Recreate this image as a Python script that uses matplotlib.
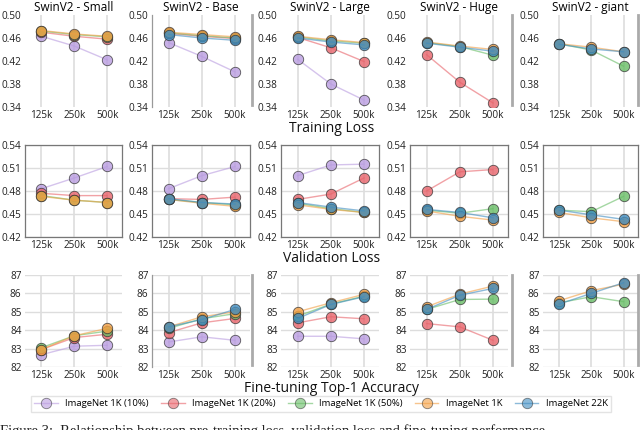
import matplotlib.pyplot as plt
from matplotlib.lines import Line2D

steps = ["125k", "250k", "500k"]
models = ["SwinV2 - Small", "SwinV2 - Base", "SwinV2 - Large", "SwinV2 - Huge", "SwinV2 - giant"]
datasets = ["ImageNet 1K (10%)", "ImageNet 1K (20%)", "ImageNet 1K (50%)", "ImageNet 1K", "ImageNet 22K"]
colors = ["#b99ce0", "#e8636a", "#68bd66", "#f29e42", "#3f8cc0"]

# one list per dataset (order as in `datasets`), None = not trained
train_loss = [
    [[0.463, 0.446, 0.422], [0.470, 0.463, 0.458], [0.472, 0.466, 0.462], [0.473, 0.467, 0.463], None],
    [[0.452, 0.428, 0.401], [0.468, 0.463, 0.459], [0.469, 0.464, 0.460], [0.470, 0.466, 0.462], [0.466, 0.460, 0.456]],
    [[0.423, 0.380, 0.352], [0.461, 0.443, 0.419], [0.462, 0.455, 0.451], [0.463, 0.457, 0.452], [0.460, 0.453, 0.448]],
    [None, [0.431, 0.383, 0.347], [0.452, 0.445, 0.430], [0.453, 0.446, 0.440], [0.451, 0.444, 0.437]],
    [None, None, [0.450, 0.439, 0.411], [0.450, 0.444, 0.436], [0.449, 0.441, 0.436]],
]
val_loss = [
    [[0.483, 0.497, 0.512], [0.477, 0.474, 0.474], [0.474, 0.468, 0.465], [0.473, 0.468, 0.465], None],
    [[0.483, 0.500, 0.512], [0.470, 0.469, 0.472], [0.469, 0.465, 0.462], [0.469, 0.464, 0.460], [0.470, 0.465, 0.463]],
    [[0.500, 0.514, 0.515], [0.469, 0.476, 0.497], [0.464, 0.457, 0.452], [0.462, 0.456, 0.452], [0.465, 0.459, 0.454]],
    [None, [0.480, 0.505, 0.508], [0.455, 0.451, 0.457], [0.454, 0.447, 0.442], [0.456, 0.452, 0.445]],
    [None, None, [0.455, 0.453, 0.473], [0.452, 0.445, 0.440], [0.455, 0.449, 0.443]],
]
ft_acc = [
    [[82.67, 83.13, 83.18], [82.95, 83.60, 83.78], [83.05, 83.70, 83.95], [82.95, 83.70, 84.10], None],
    [[83.36, 83.64, 83.45], [83.87, 84.40, 84.64], [84.10, 84.62, 84.90], [84.18, 84.73, 85.00], [84.18, 84.58, 85.13]],
    [[83.67, 83.67, 83.53], [84.40, 84.73, 84.62], [84.76, 85.42, 85.85], [85.00, 85.49, 85.95], [84.64, 85.40, 85.82]],
    [None, [84.36, 84.18, 83.45], [85.13, 85.67, 85.69], [85.27, 85.96, 86.40], [85.13, 85.90, 86.27]],
    [None, None, [85.49, 85.82, 85.55], [85.60, 86.15, 86.50], [85.42, 86.00, 86.58]],
]

metrics = [train_loss, val_loss, ft_acc]
row_titles = ["Training Loss", "Validation Loss", "Fine-tuning Top-1 Accuracy"]
row_ticks = [[0.34, 0.38, 0.42, 0.46, 0.50],
             [0.42, 0.45, 0.48, 0.51, 0.54],
             [82, 83, 84, 85, 86, 87]]
tick_fmt = ["{:.2f}", "{:.2f}", "{:.0f}"]

plt.rcParams["font.family"] = ["Open Sans", "DejaVu Sans"]

W, H = 640, 430
fig = plt.figure(figsize=(6.4, 4.3), dpi=100)

col_px = [(25, 122), (152, 250), (281, 379), (410, 508), (543, 638)]
row_px = [(15, 107), (145, 237), (275, 367)]


def px_rect(x0, x1, y0, y1):
    return [x0 / W, 1 - y1 / H, (x1 - x0) / W, (y1 - y0) / H]


for r, data in enumerate(metrics):
    for c in range(5):
        x0, x1 = col_px[c]
        y0, y1 = row_px[r]
        ax = fig.add_axes(px_rect(x0, x1, y0, y1))
        for k in range(5):
            vals = data[c][k]
            if vals is None:
                continue
            ax.plot(range(3), vals, color=colors[k], lw=1, alpha=0.6, zorder=3 + k)
            ax.plot(range(3), vals, ls="none", marker="o", ms=7.5, mfc=colors[k],
                    mec="#333333", mew=0.6, alpha=0.8, zorder=3 + k)
        ax.set_xlim(-0.5, 2.45)
        ax.set_xticks(range(3))
        ax.set_xticklabels(steps)
        t = row_ticks[r]
        ax.set_ylim(t[0], t[-1])
        ax.set_yticks(t)
        ax.set_yticklabels([tick_fmt[r].format(v) for v in t])
        ax.tick_params(length=0, labelsize=7.2, colors="#222222", pad=2.5)
        ax.set_facecolor("none")
        ax.grid(axis="x", color="#dddddd", lw=1.2, zorder=0)
        if r == 0:
            ax.set_title(models[c], fontsize=8.5, pad=3)
        if r == 1:
            ax.grid(axis="y", color="#dddddd", lw=1.0, zorder=0)
            for s in ax.spines.values():
                s.set_color("#777777")
                s.set_linewidth(0.9)
        else:
            if r == 2:
                ax.grid(axis="y", color="#dddddd", lw=1.0, zorder=0)
            for s in ax.spines.values():
                s.set_visible(False)
            if c == 1:
                ax.spines["left"].set_visible(True)
                ax.spines["left"].set_color("#999999")
                ax.spines["left"].set_linewidth(0.9)
        ax.set_axisbelow(True)

    fig.text(332 / W, 1 - (row_px[r][1] + 21) / H, row_titles[r], ha="center",
             va="center", fontsize=10, color="#111111")

# separator bars between the figure columns (rows 1 and 3)
for y0, y1 in [row_px[0], row_px[2]]:
    for xb in [252, 512, 638]:
        fig.add_artist(Line2D([xb / W, xb / W], [1 - (y1 - 2) / H, 1 - y0 / H],
                              color="#aaaaaa", lw=2))

handles = [Line2D([0], [0], color=colors[k], lw=1, alpha=0.6, marker="o", ms=7.5,
                  mfc=colors[k], mec="#333333", mew=0.6) for k in range(5)]
fig.legend(handles, datasets, loc="center", bbox_to_anchor=(321 / W, 1 - 404 / H),
           ncol=5, fontsize=6.8, frameon=True, edgecolor="#dddddd", fancybox=False,
           handlelength=2.5, columnspacing=1.3, handletextpad=0.8, borderpad=0.35)

fig.text(0.0, 1 - 424 / H, "Figure 3:  Relationship between pre-training loss, validation loss and fine-tuning performance",
         family="Liberation Serif", fontsize=10.5, va="top", ha="left", color="#222222")

fig.savefig("out.png", dpi=100)
